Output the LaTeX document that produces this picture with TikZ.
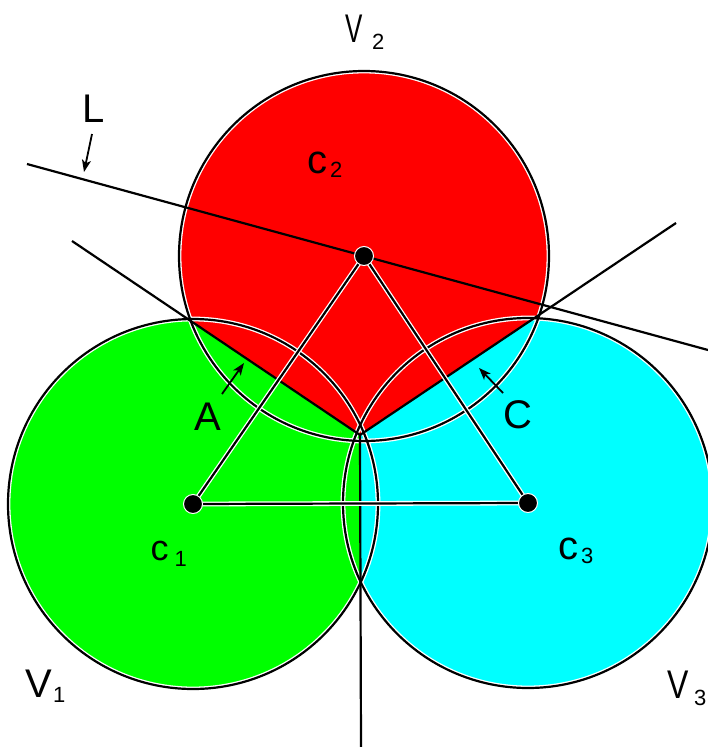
\documentclass[tikz,border=0pt]{standalone}
\usepackage{fontspec}
\setmainfont{Liberation Sans}
\usetikzlibrary{arrows.meta}
\definecolor{cellred}{RGB}{255,0,0}
\definecolor{cellgreen}{RGB}{0,255,0}
\definecolor{cellcyan}{RGB}{0,255,255}
\begin{document}
\begin{tikzpicture}[x=1pt,y=-1pt,
  edge/.style={black,line width=2.2pt},
  halo/.style={white,line width=4.8pt},
  lbl/.style={inner sep=0pt,outer sep=0pt,anchor=base west,font=\fontsize{40}{40}\selectfont},
  sublbl/.style={inner sep=0pt,outer sep=0pt,anchor=base west,font=\fontsize{22}{22}\selectfont},
  pointer/.style={black,line width=1.8pt,-{Stealth[length=12pt,width=9pt,inset=3pt]}},
  dotnode/.style={circle,fill=black,draw=white,line width=1pt,minimum size=19pt,inner sep=0pt}
]
\useasboundingbox (0,0) rectangle (708,747);
\def\R{185pt}
% sites
\coordinate (c1) at (193,504);
\coordinate (c2) at (364,256);
\coordinate (c3) at (528,503);
% Voronoi vertex and bisector ends
\coordinate (O) at (360,435);
\coordinate (B12) at (72,241);
\coordinate (B23) at (676,223);
\coordinate (B13) at (361,747);
\coordinate (B13x) at (361,770);
% line L
\coordinate (L1) at (27,164);
\coordinate (L2) at (708,350);

% coloured cells
\begin{scope}
  \clip (O) -- (B12) -- (-20,241) -- (-20,770) -- (B13x) -- cycle;
  \fill[cellgreen] (c1) circle[radius=\R];
\end{scope}
\begin{scope}
  \clip (O) -- (B12) -- (72,-20) -- (676,-20) -- (B23) -- cycle;
  \fill[cellred] (c2) circle[radius=\R];
\end{scope}
\begin{scope}
  \clip (O) -- (B13x) -- (740,770) -- (740,223) -- (B23) -- cycle;
  \fill[cellcyan] (c3) circle[radius=\R];
\end{scope}

% circle outlines
\draw[halo] (c1) circle[radius=\R];
\draw[halo] (c2) circle[radius=\R];
\draw[halo] (c3) circle[radius=\R];
\draw[edge] (c1) circle[radius=\R];
\draw[edge] (c2) circle[radius=\R];
\draw[edge] (c3) circle[radius=\R];

% bisectors
\draw[edge] (O) -- (B12);
\draw[edge] (O) -- (B23);
\draw[edge] (O) -- (B13);

% triangle
\draw[halo,line join=round] (c1) -- (c2) -- (c3) -- cycle;
\draw[edge,line join=round] (c1) -- (c2) -- (c3) -- cycle;

% line L
\draw[edge] (L1) -- (L2);

% dots
\node[dotnode] (d1) at (c1) {};
\node[dotnode] (d2) at (c2) {};
\node[dotnode] (d3) at (c3) {};

% labels
\node[lbl] (V2) at (345,42) {\scalebox{0.65}[1]{V}};
\node[sublbl] (V2s) at (372,49) {2};
\node[lbl] (V1) at (25,697) {V};
\node[sublbl] (V1s) at (53,702) {1};
\node[lbl] (V3) at (667,698) {\scalebox{0.8}[1]{V}};
\node[sublbl] (V3s) at (694,705) {3};

\node[lbl] (Ltxt) at (82,122) {L};
\node[lbl] (Atxt) at (194,430) {A};
\node[lbl] (Ctxt) at (503,428) {C};

\node[lbl] (c2t) at (307.5,173) {c};
\node[sublbl] (c2s) at (330,177) {2};
\node[lbl,font=\fontsize{36}{36}\selectfont] (c1t) at (150.5,560) {c};
\node[sublbl] (c1s) at (174.5,566) {1};
\node[lbl] (c3t) at (558.5,559) {c};
\node[sublbl] (c3s) at (581,563) {3};

% pointer arrows
\coordinate (aL1) at (92,134);
\coordinate (aL2) at (84,172);
\coordinate (aA1) at (222,394);
\coordinate (aA2) at (244,363);
\coordinate (aC1) at (503,393);
\coordinate (aC2) at (479,368);
\draw[pointer] (aL1) -- (aL2);
\draw[pointer] (aA1) -- (aA2);
\draw[pointer] (aC1) -- (aC2);
\end{tikzpicture}
\end{document}
